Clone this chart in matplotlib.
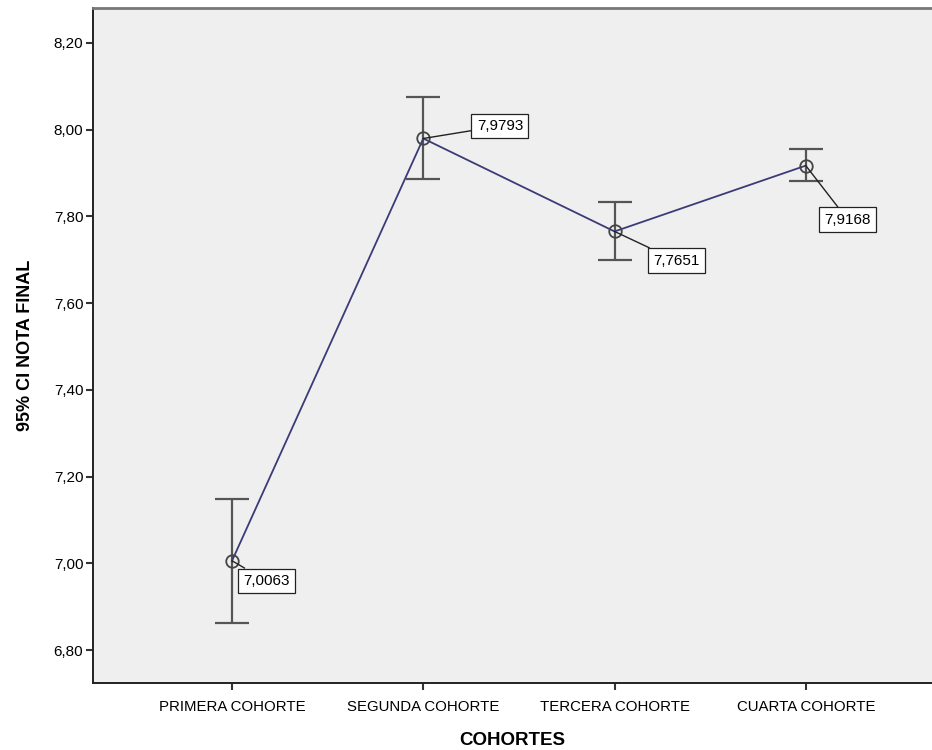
import numpy as np
import matplotlib
matplotlib.use("Agg")
import matplotlib.pyplot as plt

plt.rcParams['font.family'] = ['Liberation Sans', 'DejaVu Sans']

cohortes = ["PRIMERA COHORTE", "SEGUNDA COHORTE", "TERCERA COHORTE", "CUARTA COHORTE"]
medias = [7.0063, 7.9793, 7.7651, 7.9168]
ic_inf = [6.864, 7.885, 7.699, 7.881]
ic_sup = [7.149, 8.076, 7.833, 7.954]
y_ticks = [6.80, 7.00, 7.20, 7.40, 7.60, 7.80, 8.00, 8.20]

# label box offsets in points (dx, dy) relative to each mean
offsets = [(8, -14.5), (38.5, 9), (28, -21), (13.5, -39)]

fig = plt.figure(figsize=(9.32, 7.5), dpi=100)
ax = fig.add_axes([93 / 932, 1 - 683 / 750, 1 - 93 / 932, 675 / 750])
ax.set_facecolor("#efefef")

x = np.arange(len(cohortes))
medias = np.array(medias)
yerr = [medias - np.array(ic_inf), np.array(ic_sup) - medias]

ax.plot(x, medias, color="#3b3b78", lw=1.3, zorder=3)
ax.errorbar(x, medias, yerr=yerr, fmt="none", ecolor="#555555",
            elinewidth=1.6, capsize=12, capthick=1.6, zorder=2)
ax.plot(x, medias, "o", ms=9, mfc="none", mec="#444444", mew=1.3, zorder=4)

for xi, m, (dx, dy) in zip(x, medias, offsets):
    ax.annotate(f"{m:.4f}".replace(".", ","), xy=(xi, m), xytext=(dx, dy),
                textcoords="offset points", fontsize=11, ha="left", va="center",
                bbox=dict(boxstyle="square,pad=0.35", fc="white", ec="#222222", lw=0.9),
                arrowprops=dict(arrowstyle="-", color="#222222", lw=1.0,
                                shrinkA=0, shrinkB=0), zorder=5)

ax.set_xlim(-0.727, 3.66)
ax.set_ylim(6.7246, 8.28)
ax.set_xticks(x)
ax.set_xticklabels(cohortes, fontsize=10.8)
ax.set_yticks(y_ticks)
ax.set_yticklabels([f"{v:.2f}".replace(".", ",") for v in y_ticks], fontsize=11)
ax.tick_params(axis="both", direction="out", length=5, width=1.5, color="#333333", pad=2)
ax.tick_params(axis="x", pad=7)

for side in ["left", "bottom"]:
    ax.spines[side].set_color("#222222")
    ax.spines[side].set_linewidth(1.4)
ax.spines["top"].set_color("#777777")
ax.spines["top"].set_linewidth(2)
ax.spines["right"].set_visible(False)

ax.set_ylabel("95% CI NOTA FINAL", fontsize=13, fontweight="bold", labelpad=14)
ax.set_xlabel("COHORTES", fontsize=13.5, fontweight="bold", labelpad=13)

fig.savefig("out.png", dpi=100)
